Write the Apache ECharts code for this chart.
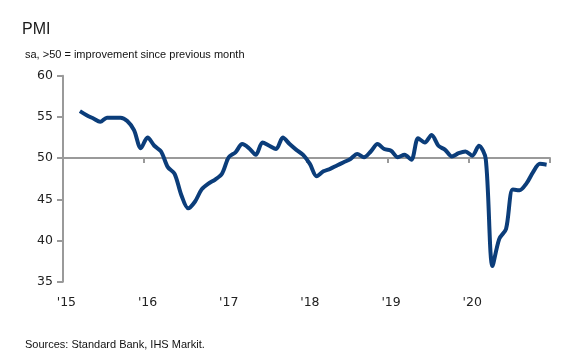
<!DOCTYPE html>
<html>
<head>
<meta charset="utf-8">
<script src="https://cdn.jsdelivr.net/npm/echarts@6/dist/echarts.min.js"></script>
<style>
html,body{margin:0;padding:0;background:#fff;}
#chart{width:576px;height:358px;}
</style>
</head>
<body>
<div id="chart"></div>
<script>
var categories = [
  "2015-01","2015-02","2015-03","2015-04","2015-05","2015-06","2015-07","2015-08","2015-09","2015-10","2015-11","2015-12",
  "2016-01","2016-02","2016-03","2016-04","2016-05","2016-06","2016-07","2016-08","2016-09","2016-10","2016-11","2016-12",
  "2017-01","2017-02","2017-03","2017-04","2017-05","2017-06","2017-07","2017-08","2017-09","2017-10","2017-11","2017-12",
  "2018-01","2018-02","2018-03","2018-04","2018-05","2018-06","2018-07","2018-08","2018-09","2018-10","2018-11","2018-12",
  "2019-01","2019-02","2019-03","2019-04","2019-05","2019-06","2019-07","2019-08","2019-09","2019-10","2019-11","2019-12",
  "2020-01","2020-02","2020-03","2020-04","2020-05","2020-06","2020-07","2020-08","2020-09","2020-10","2020-11","2020-12"
];
var pmi = [
  null, null, 55.7, 55.2, 54.8, 54.4, 54.9, 54.9, 54.9, 54.5, 53.4, 51.2,
  52.5, 51.5, 50.8, 48.9, 48.1, 45.5, 43.9, 44.7, 46.2, 46.9, 47.4, 48.1,
  50.1, 50.7, 51.7, 51.2, 50.4, 51.9, 51.5, 51.1, 52.5, 51.7, 51.0, 50.4,
  49.3, 47.8, 48.4, 48.7, 49.1, 49.5, 49.9, 50.5, 50.1, 50.8, 51.7, 51.1,
  50.9, 50.1, 50.4, 49.8, 52.4, 51.9, 52.8, 51.5, 51.0, 50.2, 50.6, 50.8,
  50.3, 51.5, 49.9, 36.9, 40.2, 41.4, 46.2, 46.1, 46.9, 48.3, 49.3, 49.2
];
var yTicks = [35, 40, 45, 50, 55, 60];
var titleText = "PMI";
var subtitleText = "sa, >50 = improvement since previous month";
var sourceText = "Sources: Standard Bank, IHS Markit.";

var chart = echarts.init(document.getElementById('chart'), null, {renderer: 'canvas'});
var gridTop = 75.7, gridBottomPx = 281.7;
var yMin = yTicks[0], yMax = yTicks[yTicks.length - 1];
var crossVal = 50;
var crossOffset = -(gridBottomPx - gridTop) * (crossVal - yMin) / (yMax - yMin);

chart.setOption({
  animation: false,
  backgroundColor: '#ffffff',
  title: [
    {text: titleText, left: 17, top: 17, textStyle: {fontFamily: 'Liberation Sans', fontSize: 16, fontWeight: 'normal', color: '#1a1a1a'}},
    {text: subtitleText, left: 20, top: 44, textStyle: {fontFamily: 'Liberation Sans', fontSize: 11, fontWeight: 'normal', color: '#111'}},
    {text: sourceText, left: 20, top: 334, textStyle: {fontFamily: 'Liberation Sans', fontSize: 11, fontWeight: 'normal', color: '#111'}}
  ],
  grid: {left: 63, right: 26, top: gridTop, bottom: 358 - gridBottomPx, containLabel: false},
  xAxis: {
    type: 'category',
    data: categories,
    boundaryGap: true,
    position: 'bottom',
    offset: crossOffset,
    axisLine: {show: true, lineStyle: {color: '#9a9a9a', width: 2}},
    axisTick: {show: true, interval: 11, length: 5, lineStyle: {color: '#9a9a9a', width: 2}},
    axisLabel: {
      show: true, interval: 11, margin: 138,
      fontFamily: 'DejaVu Sans', fontSize: 12.5, color: '#222',
      formatter: function (v) { return "'" + v.substring(2, 4); }
    },
    splitLine: {show: false}
  },
  yAxis: {
    type: 'value',
    min: yMin, max: yMax, interval: 5,
    axisLine: {show: true, lineStyle: {color: '#9a9a9a', width: 2}},
    axisTick: {show: true, length: 6, lineStyle: {color: '#9a9a9a', width: 2}},
    axisLabel: {fontFamily: 'DejaVu Sans', fontSize: 12.5, color: '#222', margin: 10},
    splitLine: {show: false}
  },
  series: [{
    type: 'line',
    data: pmi,
    smooth: 0.3,
    showSymbol: false,
    connectNulls: false,
    lineStyle: {color: '#0b3d7a', width: 4},
    z: 5
  }]
});
</script>
</body>
</html>
